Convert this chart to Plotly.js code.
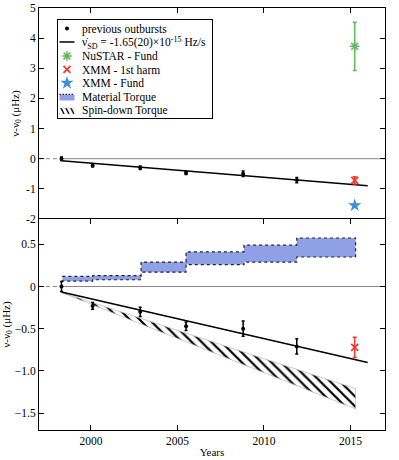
<!DOCTYPE html>
<html>
<head>
<meta charset="utf-8">
<script src="https://cdn.plot.ly/plotly-3.0.1.min.js"></script>
<style>html,body{margin:0;padding:0;background:#fff;}#chart{width:399px;height:460px;}</style>
</head>
<body>
<div id="chart"></div>
<script>
// ---- data ----
const prevYears = [1998.3, 2000.1, 2002.85, 2005.5, 2008.8, 2011.9];
const prevNu = [0.0, -0.23, -0.30, -0.47, -0.50, -0.71];
const prevErr = [0.06, 0.04, 0.055, 0.05, 0.09, 0.09];

const fitYears = [1998.3, 2016.0];
const fitNu = [-0.065, -0.90];

const nustarYear = [2015.25];
const nustarNu = [3.73];
const nustarErr = [0.8];

const xmmHarmYear = [2015.25];
const xmmHarmNu = [-0.72];
const xmmHarmErr = [0.12];

const xmmFundYear = [2015.25];
const xmmFundNu = [-1.55];

const torqueEdges = [1998.35, 2000.1, 2002.9, 2005.5, 2008.85, 2011.9, 2015.3];
const torqueUpper = [0.12, 0.13, 0.29, 0.41, 0.49, 0.575];
const torqueLower = [0.065, 0.08, 0.17, 0.26, 0.29, 0.35];

const spinYears = [1998.3, 2015.3];
const spinUpper = [-0.07, -1.21];
const spinLower = [-0.07, -1.45];

const zeroDashYears = [1997, 1998.3];
const zeroSolidYears = [1998.3, 2017];
const zeroVals = [0, 0];

const xTickVals = [2000, 2005, 2010, 2015];
const topTickVals = [-2, -1, 0, 1, 2, 3, 4, 5];
const topTickText = ['-2', '-1', '0', '1', '2', '3', '4', '5'];
const botTickVals = [-1.5, -1.0, -0.5, 0, 0.5];
const botTickText = ['\u22121.5', '\u22121.0', '\u22120.5', '0', '0.5'];

// ---- build polygons from data ----
const tqX = [], tqY = [];
for (let i = 0; i < torqueUpper.length; i++) {
  tqX.push(torqueEdges[i], torqueEdges[i + 1]);
  tqY.push(torqueUpper[i], torqueUpper[i]);
}
for (let i = torqueLower.length - 1; i >= 0; i--) {
  tqX.push(torqueEdges[i + 1], torqueEdges[i]);
  tqY.push(torqueLower[i], torqueLower[i]);
}
tqX.push(tqX[0]); tqY.push(tqY[0]);

const sdX = spinYears.concat(spinYears.slice().reverse());
const sdY = spinUpper.concat(spinLower.slice().reverse());
sdX.push(sdX[0]); sdY.push(sdY[0]);

const FONT = '"Liberation Serif", "DejaVu Serif", serif';
const green = '#5dbb5d', red = '#ee3b2b', blue = '#3f8fd2', tqFill = 'rgb(143,160,230)';

function zeroTraces(xa, ya) {
  return [
    {x: zeroDashYears, y: zeroVals, xaxis: xa, yaxis: ya, mode: 'lines', line: {color: '#888', width: 1, dash: '4px,3px'}, showlegend: false, hoverinfo: 'skip'},
    {x: zeroSolidYears, y: zeroVals, xaxis: xa, yaxis: ya, mode: 'lines', line: {color: '#888', width: 1}, showlegend: false, hoverinfo: 'skip'}
  ];
}

const traces = [].concat(
  zeroTraces('x', 'y'),
  zeroTraces('x2', 'y2'),
  [
    {x: tqX, y: tqY, xaxis: 'x2', yaxis: 'y2', mode: 'lines', fill: 'toself', fillcolor: tqFill,
     line: {color: '#223', width: 1.2, dash: 'dot'}, name: 'Material Torque', legendrank: 6, hoverinfo: 'skip'},
    {x: sdX, y: sdY, xaxis: 'x2', yaxis: 'y2', mode: 'lines', fill: 'toself', fillcolor: 'white',
     fillpattern: {shape: '\\', fgcolor: 'black', bgcolor: 'white', size: 7, solidity: 0.32},
     line: {color: '#aaa', width: 0.6}, name: 'Spin-down Torque', legendrank: 7, hoverinfo: 'skip'},
    {x: fitYears, y: fitNu, xaxis: 'x', yaxis: 'y', mode: 'lines', line: {color: 'black', width: 1.5},
     name: '\u03BD\u0307<sub>SD</sub> = -1.65(20)\u00D710<sup>-15</sup> Hz/s', legendrank: 2},
    {x: prevYears, y: prevNu, xaxis: 'x', yaxis: 'y', mode: 'markers', marker: {color: 'black', size: 4},
     error_y: {type: 'data', array: prevErr, color: 'black', thickness: 1.5, width: 1.5},
     name: 'previous outbursts', legendrank: 1},
    {x: nustarYear, y: nustarNu, xaxis: 'x', yaxis: 'y', mode: 'markers',
     marker: {symbol: 'asterisk-open', color: green, size: 8, line: {color: green, width: 1.5}},
     error_y: {type: 'data', array: nustarErr, color: green, thickness: 1.5, width: 2},
     name: 'NuSTAR - Fund', legendrank: 3},
    {x: xmmHarmYear, y: xmmHarmNu, xaxis: 'x', yaxis: 'y', mode: 'markers',
     marker: {symbol: 'x-thin-open', color: red, size: 7, line: {color: red, width: 1.8}},
     error_y: {type: 'data', array: xmmHarmErr, color: red, thickness: 1.5, width: 2},
     name: 'XMM - 1st harm', legendrank: 4},
    {x: xmmFundYear, y: xmmFundNu, xaxis: 'x', yaxis: 'y', mode: 'markers',
     marker: {symbol: 'star', color: blue, size: 10},
     name: 'XMM - Fund', legendrank: 5},
    {x: fitYears, y: fitNu, xaxis: 'x2', yaxis: 'y2', mode: 'lines', line: {color: 'black', width: 1.5}, showlegend: false},
    {x: prevYears, y: prevNu, xaxis: 'x2', yaxis: 'y2', mode: 'markers', marker: {color: 'black', size: 4},
     error_y: {type: 'data', array: prevErr, color: 'black', thickness: 1.5, width: 1.5}, showlegend: false},
    {x: xmmHarmYear, y: xmmHarmNu, xaxis: 'x2', yaxis: 'y2', mode: 'markers',
     marker: {symbol: 'x-thin-open', color: red, size: 7, line: {color: red, width: 1.8}},
     error_y: {type: 'data', array: xmmHarmErr, color: red, thickness: 1.5, width: 2}, showlegend: false}
  ]
);

const axCommon = {
  showgrid: false, zeroline: false, showline: true, linecolor: 'black', linewidth: 1,
  ticks: 'inside', ticklen: 5, tickwidth: 1, tickcolor: 'black',
  tickfont: {family: FONT, size: 11.5, color: 'black'}
};

const layout = {
  width: 399, height: 460,
  margin: {l: 39, r: 14, t: 8, b: 30},
  paper_bgcolor: 'white', plot_bgcolor: 'white',
  font: {family: FONT, size: 11, color: 'black'},
  xaxis: Object.assign({}, axCommon, {domain: [0, 1], anchor: 'y', range: [1997, 2017], side: 'top',
    tickvals: xTickVals, showticklabels: false, mirror: false}),
  yaxis: Object.assign({}, axCommon, {domain: [0.5, 1], anchor: 'x', range: [-2, 5],
    tickvals: topTickVals, ticktext: topTickText, mirror: 'ticks',
    title: {text: '\u03BD-\u03BD<sub>0</sub> (\u03BCHz)', font: {family: FONT, size: 11}, standoff: 4}}),
  xaxis2: Object.assign({}, axCommon, {domain: [0, 1], anchor: 'y2', range: [1997, 2017],
    tickvals: xTickVals, mirror: 'ticks',
    title: {text: 'Years', font: {family: FONT, size: 11}, standoff: 2}}),
  yaxis2: Object.assign({}, axCommon, {domain: [0, 0.5], anchor: 'x2', range: [-1.7, 0.8],
    tickvals: botTickVals, ticktext: botTickText, mirror: 'ticks',
    title: {text: '\u03BD-\u03BD<sub>0</sub> (\u03BCHz)', font: {family: FONT, size: 11}, standoff: 3}}),
  legend: {x: 0.052, y: 0.974, xanchor: 'left', yanchor: 'top', bgcolor: 'white',
    bordercolor: 'black', borderwidth: 1, font: {family: FONT, size: 11.5, color: 'black'},
    itemwidth: 30, tracegroupgap: 0, traceorder: 'normal'},
  showlegend: true
};

function compactLegend(gd) {
  try {
    const legend = gd.querySelector('.legend');
    if (!legend) return;
    const items = legend.querySelectorAll('.traces');
    const step = 13.5, first = 9.5, groupShift = -11, textShift = -5;
    let maxRight = 0;
    items.forEach(function (g, i) {
      const m = /translate\(\s*([-\d.e]+)[\s,]+([-\d.e]+)\s*\)/.exec(g.getAttribute('transform') || '');
      const x = m ? parseFloat(m[1]) : 0;
      const nx = x + groupShift, ny = first + i * step + (i >= 2 ? 0.5 : 0);
      g.setAttribute('transform', 'translate(' + nx + ',' + ny + ')');
      g.querySelectorAll('.legendfill path, .legendlines path').forEach(function (p) {
        const bb = p.getBBox();
        const cx = bb.x + bb.width / 2, s = 0.5;
        p.setAttribute('transform', 'translate(' + (cx * (1 - s)) + ',0) scale(' + s + ',1)');
      });
      const t = g.querySelector('.legendtext');
      if (t) {
        t.setAttribute('transform', 'translate(' + textShift + ',0)');
        const bb = t.getBBox();
        maxRight = Math.max(maxRight, nx + textShift + bb.x + bb.width);
      }
    });
    const bg = legend.querySelector('rect.bg');
    if (bg) {
      bg.setAttribute('height', first + (items.length - 1) * step + 0.5 + 8);
      bg.setAttribute('width', maxRight + 6);
    }
  } catch (e) { console.log(e); }
}

Plotly.newPlot('chart', traces, layout, {displayModeBar: false, staticPlot: true}).then(compactLegend);
</script>
</body>
</html>
